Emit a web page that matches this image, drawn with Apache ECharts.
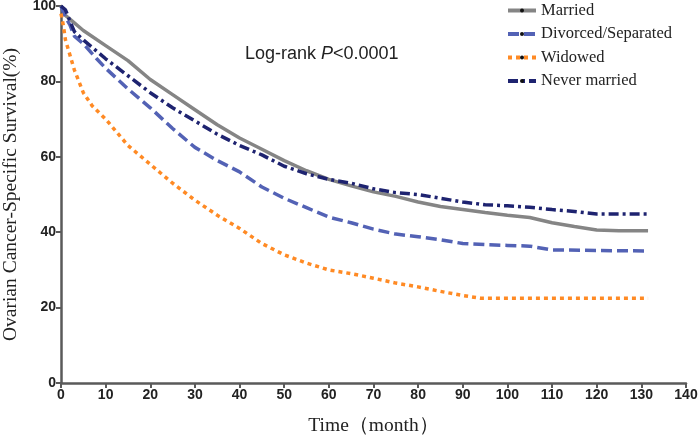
<!DOCTYPE html>
<html>
<head>
<meta charset="utf-8">
<script src="https://cdn.jsdelivr.net/npm/echarts@6/dist/echarts.min.js"></script>
<style>html,body{margin:0;padding:0;background:#fff}#c{width:700px;height:441px}</style>
</head>
<body>
<div id="c"></div>
<script>
var marriedMonths = [0,1,2,5,10,15,20,25,30,35,40,45,50,55,60,65,70,75,80,85,90,95,100,105,110,115,120,125,131.5];
var marriedVals   = [100,97.5,96.5,93.5,89.5,85.5,80.5,76.5,72.5,68.5,65,62,59,56.3,54,52.3,50.7,49.5,48,46.8,46,45.2,44.5,43.9,42.5,41.5,40.6,40.4,40.4];

var divorcedMonths = [0,1,2,3,5,8,10,15,20,25,30,35,40,45,50,55,60,65,70,75,80,85,90,95,100,105,110,131.5];
var divorcedVals   = [100,97,95,92,90,86,83.5,78,73,67.5,62.5,59,56,52,49,46.5,44,42.5,40.8,39.5,38.8,38,37,36.7,36.5,36.3,35.3,35];

var widowedMonths = [0,0.5,1,2,3,5,7,10,15,20,25,30,35,40,45,50,55,60,65,70,75,80,85,90,94,131.5];
var widowedVals   = [98,95,91,87,83,77,73.5,70,63,58,53,48.5,44.5,41,37,34,31.8,30,29,27.8,26.5,25.5,24.3,23.2,22.5,22.5];

var neverMonths = [0,1,2,3,5,8,10,15,20,25,30,35,40,45,50,55,60,65,70,75,80,85,90,95,100,105,110,115,120,131.5];
var neverVals   = [100,99,96,93.2,91,88,86,81.5,77,73,69.5,66,63,60.5,57.5,55.5,54,53,51.5,50.5,50,49,48,47.3,47,46.6,46,45.5,44.8,44.8];

var seriesNames = ['Married','Divorced/Separated','Widowed','Never married'];

function pairs(m, v){ return m.map(function(x,i){ return [x, v[i]]; }); }

var chart = echarts.init(document.getElementById('c'));
var axisCol = '#5a5a5a';
var labelStyle = {fontFamily:'Liberation Sans, Arial', fontWeight:'bold', fontSize:14, color:'#222'};
function mk(name, data, color, type, width){
  return {
    name: name, type:'line', data: data, showSymbol:false, symbol:'circle', symbolSize:3,
    itemStyle:{color:'#111'},
    lineStyle:{color:color, type:type, width:width, cap:'butt'},
    emphasis:{disabled:true}, animation:false, z: 3
  };
}
chart.setOption({
  animation:false,
  grid:{left:61, right:14, top:6, bottom:58, outerBoundsMode:'none', containLabel:false},
  legend:{
    orient:'vertical', left:501, top:-3, itemGap:6.5, itemWidth:28, itemHeight:5,
    itemStyle:{borderWidth:0},
    lineStyle:{width:4},
    textStyle:{fontFamily:'Liberation Serif, Times New Roman', fontSize:16.5, lineHeight:17, color:'#222'},
    data: seriesNames
  },
  graphic:[{
    type:'text', left:245, top:45,
    style:{
      text:'{n|Log-rank }{i|P}{n|<0.0001}',
      rich:{
        n:{fontFamily:'Liberation Sans, Arial', fontSize:18, fill:'#222'},
        i:{fontFamily:'Liberation Sans, Arial', fontSize:18, fontStyle:'italic', fill:'#222'}
      }
    }
  }],
  xAxis:{
    type:'value', min:0, max:140, interval:10,
    name:'Time（month）', nameLocation:'middle', nameGap:33,
    nameTextStyle:{fontFamily:'Liberation Serif, Times New Roman', fontSize:19.5, color:'#222'},
    axisLine:{show:true, lineStyle:{color:axisCol, width:2.5}},
    axisTick:{show:true, length:5, lineStyle:{color:axisCol, width:2}},
    axisLabel:Object.assign({margin:5}, labelStyle),
    splitLine:{show:false}
  },
  yAxis:{
    type:'value', min:0, max:100, interval:20,
    name:'Ovarian Cancer-Specific Survival(%)', nameLocation:'middle', nameGap:40,
    nameTextStyle:{fontFamily:'Liberation Serif, Times New Roman', fontSize:19.5, color:'#222'},
    axisLine:{show:true, lineStyle:{color:axisCol, width:2.5}},
    axisTick:{show:true, length:5, lineStyle:{color:axisCol, width:2}},
    axisLabel:Object.assign({margin:5}, labelStyle),
    splitLine:{show:false}
  },
  series:[
    mk(seriesNames[0], pairs(marriedMonths, marriedVals), '#858585', 'solid', 3.5),
    mk(seriesNames[1], pairs(divorcedMonths, divorcedVals), '#5362b5', [11,5], 3.5),
    mk(seriesNames[2], pairs(widowedMonths, widowedVals), '#ff8a24', [4,4], 3.5),
    mk(seriesNames[3], pairs(neverMonths, neverVals), '#1e2370', [10,4,3,4], 3.5)
  ]
});
</script>
</body>
</html>
